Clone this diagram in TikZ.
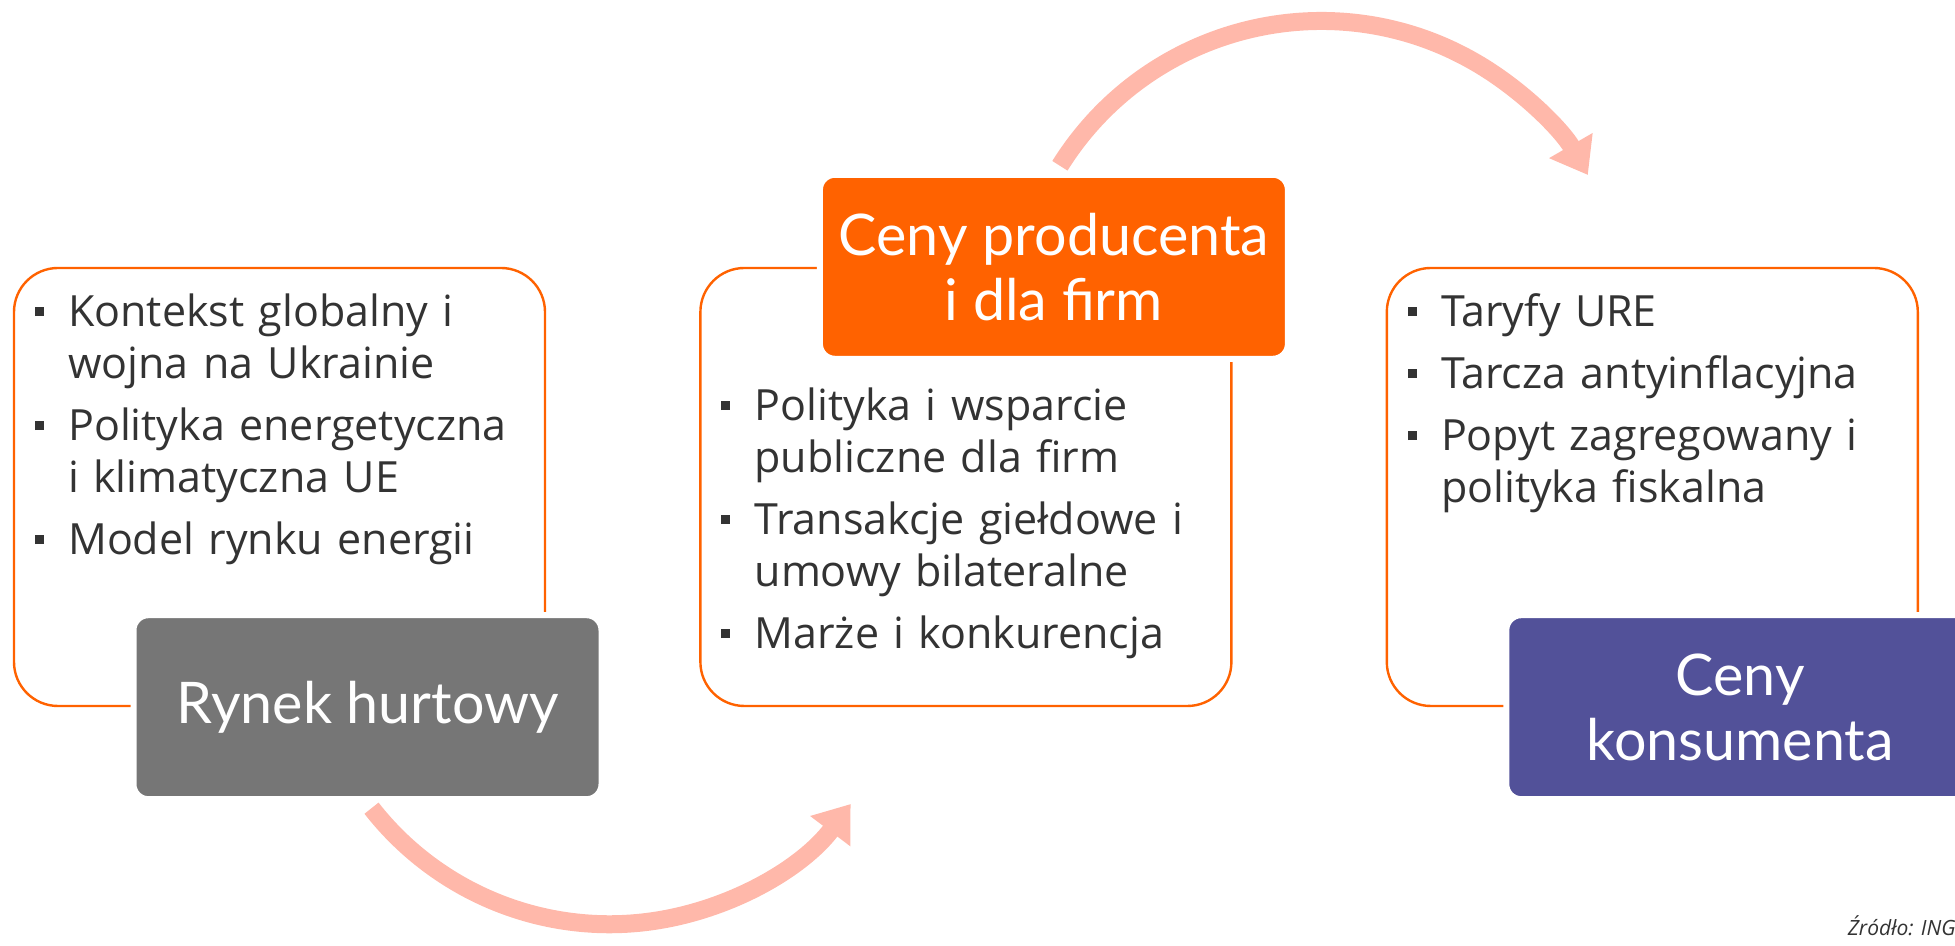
\documentclass[tikz,border=0pt]{standalone}
\usepackage{fontspec}
\setmainfont{Lato}
\newfontfamily\punktyfont{Open Sans}
\newfontfamily\zrodlofont{Open Sans}
\usetikzlibrary{positioning,arrows.meta}

\definecolor{ingorange}{HTML}{FF6200}
\definecolor{inggray}{HTML}{767676}
\definecolor{ingpurple}{HTML}{525199}
\definecolor{ingsalmon}{HTML}{FFB8AA}
\definecolor{ingtext}{HTML}{333333}

% lista z kwadratowymi punktami
\newenvironment{punkty}{\begin{list}{\rule[5pt]{4.5pt}{4.5pt}}{%
  \setlength\leftmargin{16.75pt}\setlength\labelwidth{4.5pt}%
  \setlength\labelsep{12.25pt}\setlength\itemsep{5pt}%
  \setlength\parsep{0pt}\setlength\topsep{0pt}\setlength\partopsep{0pt}}}%
 {\end{list}}

\tikzset{
  ramka/.style={draw=ingorange, line width=1.2pt, rounded corners=22pt,
    minimum width=265.5pt, minimum height=219pt, inner sep=0pt},
  naglowek/.style={draw=white, line width=3pt, rounded corners=7.5pt,
    minimum width=234pt, minimum height=92pt, inner sep=0pt, text=white,
    align=center, font=\fontsize{28.7}{32.5}\selectfont},
  lista/.style={anchor=north west, text width=250pt, inner sep=0pt,
    text=ingtext, font=\punktyfont\fontsize{21.5}{26}\selectfont},
  strzalka/.style={draw=ingsalmon, line width=9pt,
    -{Triangle[width=24pt,length=17pt]}},
}

\begin{document}
\begin{tikzpicture}[x=1pt,y=1pt]
\useasboundingbox (0,0) rectangle (977.5,473);

% ramki
\node[ramka] (lewa) at (139.75,229.5) {};
\node[ramka, right=76.5pt of lewa] (srodek) {};
\node[ramka, right=76.5pt of srodek] (prawa) {};

% naglowki
\node[naglowek, fill=inggray] (hurt) at ([xshift=44pt]lewa.south) {Rynek hurtowy};
\node[naglowek, fill=ingorange] (prod) at ([xshift=44pt]srodek.north) {Ceny producenta\\i dla firm};
\node[naglowek, fill=ingpurple] (kons) at ([xshift=44pt]prawa.south) {Ceny\\konsumenta};

% punkty
\node[lista] (lewa-tekst) at ([xshift=10.75pt,yshift=-3.5pt]lewa.north west) {\begin{punkty}
  \item Kontekst globalny i\\wojna na Ukrainie
  \item Polityka energetyczna\\i klimatyczna UE
  \item Model rynku energii
\end{punkty}};
\node[lista] (srodek-tekst) at ([xshift=10.75pt,yshift=-50.5pt]srodek.north west) {\begin{punkty}
  \item Polityka i wsparcie\\publiczne dla firm
  \item Transakcje giełdowe i\\umowy bilateralne
  \item Marże i konkurencja
\end{punkty}};
\node[lista] (prawa-tekst) at ([xshift=10.75pt,yshift=-3.5pt]prawa.north west) {\begin{punkty}
  \item Taryfy URE
  \item Tarcza antyinflacyjna
  \item Popyt zagregowany i\\polityka fiskalna
\end{punkty}};

% strzalki
\draw[strzalka] ([xshift=3pt,yshift=3pt]prod.north) arc[start angle=148, end angle=30, radius=154pt];
\draw[strzalka] ([xshift=2pt,yshift=-3pt]hurt.south) arc[start angle=-142, end angle=-37, radius=151pt];

\node[anchor=base east, inner sep=0pt, text=ingtext,
  font=\zrodlofont\itshape\fontsize{10.5}{12}\selectfont] (zrodlo) at (978,5) {Źródło: ING};
\end{tikzpicture}
\end{document}
